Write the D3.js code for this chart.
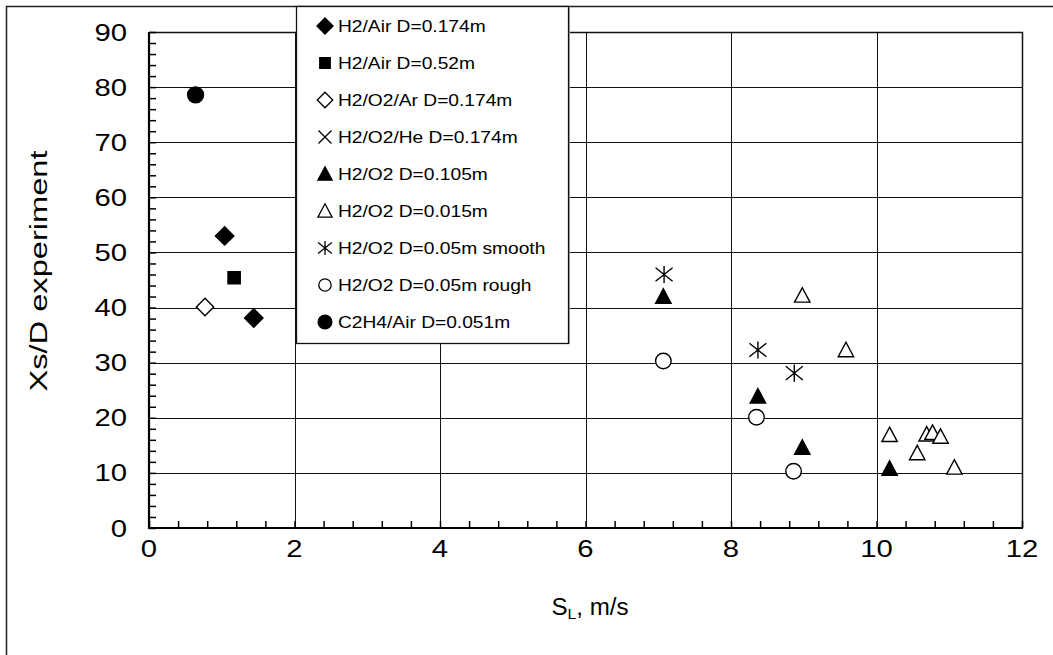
<!DOCTYPE html>
<html>
<head>
<meta charset="utf-8">
<script src="https://cdn.jsdelivr.net/npm/d3@7"></script>
<style>
  html, body { margin: 0; padding: 0; background: #fff; }
  svg { display: block; font-family: "Liberation Sans", Arial, sans-serif; }
</style>
</head>
<body>
<svg id="chart" width="1053" height="655"></svg>
<script>
// ---- Data ----
const seriesNames = [
  "H2/Air D=0.174m",
  "H2/Air D=0.52m",
  "H2/O2/Ar D=0.174m",
  "H2/O2/He D=0.174m",
  "H2/O2 D=0.105m",
  "H2/O2 D=0.015m",
  "H2/O2 D=0.05m smooth",
  "H2/O2 D=0.05m rough",
  "C2H4/Air D=0.051m"
];
const h2AirD174_x = [1.04, 1.44];
const h2AirD174_y = [53.0, 38.1];
const h2AirD52_x = [1.17];
const h2AirD52_y = [45.4];
const h2O2ArD174_x = [0.77];
const h2O2ArD174_y = [40.1];
const h2O2HeD174_x = [];
const h2O2HeD174_y = [];
const h2O2D105_x = [7.07, 8.37, 8.98, 10.18];
const h2O2D105_y = [42.0, 23.9, 14.6, 10.8];
const h2O2D015_x = [8.98, 9.58, 10.18, 10.56, 10.69, 10.77, 10.88, 11.07];
const h2O2D015_y = [42.2, 32.3, 16.9, 13.6, 17.0, 17.3, 16.6, 11.0];
const h2O2D05smooth_x = [7.08, 8.37, 8.87];
const h2O2D05smooth_y = [46.0, 32.3, 28.1];
const h2O2D05rough_x = [7.07, 8.35, 8.86];
const h2O2D05rough_y = [30.3, 20.1, 10.3];
const c2h4AirD051_x = [0.64];
const c2h4AirD051_y = [78.6];

const xTicks = [0, 2, 4, 6, 8, 10, 12];
const yTicks = [0, 10, 20, 30, 40, 50, 60, 70, 80, 90];

// ---- Symbol types ----
const symDiamond = { draw(ctx, size) { const r = Math.sqrt(size / 2); ctx.moveTo(0, -r); ctx.lineTo(r, 0); ctx.lineTo(0, r); ctx.lineTo(-r, 0); ctx.closePath(); } };
const symSquare = { draw(ctx, size) { const r = Math.sqrt(size) / 2; ctx.rect(-r, -r, 2 * r, 2 * r); } };
const symTriangle = { draw(ctx, size) { const h = Math.sqrt(size * 0.9); const w = h * 1.15; ctx.moveTo(0, -h / 2 - 1); ctx.lineTo(w / 2, h / 2); ctx.lineTo(-w / 2, h / 2); ctx.closePath(); } };
const symCircle = { draw(ctx, size) { const r = Math.sqrt(size / Math.PI); ctx.moveTo(r, 0); ctx.arc(0, 0, r, 0, 2 * Math.PI); } };
const symX = { draw(ctx, size) { const r = Math.sqrt(size) / 2; ctx.moveTo(-r, -r); ctx.lineTo(r, r); ctx.moveTo(r, -r); ctx.lineTo(-r, r); } };
const symStar = { draw(ctx, size) { const r = Math.sqrt(size) / 2; ctx.moveTo(0, -r); ctx.lineTo(0, r); ctx.moveTo(-r, -r * 0.8); ctx.lineTo(r, r * 0.8); ctx.moveTo(r, -r * 0.8); ctx.lineTo(-r, r * 0.8); } };

const series = [
  { name: seriesNames[0], xs: h2AirD174_x, ys: h2AirD174_y, type: symDiamond, fill: "#000", size: 170, lsize: 130 },
  { name: seriesNames[1], xs: h2AirD52_x, ys: h2AirD52_y, type: symSquare, fill: "#000", size: 150, lsize: 110 },
  { name: seriesNames[2], xs: h2O2ArD174_x, ys: h2O2ArD174_y, type: symDiamond, fill: "none", size: 150, lsize: 120 },
  { name: seriesNames[3], xs: h2O2HeD174_x, ys: h2O2HeD174_y, type: symX, fill: "none", size: 170, lsize: 170 },
  { name: seriesNames[4], xs: h2O2D105_x, ys: h2O2D105_y, type: symTriangle, fill: "#000", size: 200, lsize: 170 },
  { name: seriesNames[5], xs: h2O2D015_x, ys: h2O2D015_y, type: symTriangle, fill: "none", size: 200, lsize: 170 },
  { name: seriesNames[6], xs: h2O2D05smooth_x, ys: h2O2D05smooth_y, type: symStar, fill: "none", size: 290, lsize: 190 },
  { name: seriesNames[7], xs: h2O2D05rough_x, ys: h2O2D05rough_y, type: symCircle, fill: "none", size: 190, lsize: 120 },
  { name: seriesNames[8], xs: c2h4AirD051_x, ys: c2h4AirD051_y, type: symCircle, fill: "#000", size: 200, lsize: 150 }
];
const fillOf = s => s.fill === "none" ? ((s.type === symStar || s.type === symX) ? "none" : "#fff") : s.fill;

// ---- Layout ----
const svg = d3.select("#chart");
const L = 149, R = 1022, T = 32, B = 528;
const SX = 1.22; // horizontal glyph stretch seen in the reference
const x = d3.scaleLinear().domain([0, 12]).range([L, R]);
const y = d3.scaleLinear().domain([0, 90]).range([B, T]);

// outer frame
svg.append("rect").attr("x", 6.5).attr("y", 6.5).attr("width", 1100).attr("height", 700)
  .attr("fill", "#fff").attr("stroke", "#222").attr("stroke-width", 1.5);

// gridlines
const grid = svg.append("g").attr("stroke", "#111").attr("stroke-width", 1);
grid.selectAll("line.v").data(xTicks.filter(d => d > 0 && d < 12)).join("line")
  .attr("x1", d => Math.round(x(d)) + 0.5).attr("x2", d => Math.round(x(d)) + 0.5)
  .attr("y1", T).attr("y2", B);
grid.selectAll("line.h").data(yTicks.filter(d => d > 0 && d < 90)).join("line")
  .attr("y1", d => Math.round(y(d)) + 0.5).attr("y2", d => Math.round(y(d)) + 0.5)
  .attr("x1", L).attr("x2", R);

// plot border top/right
svg.append("path").attr("d", `M${L},${T + 0.5}H${R + 0.5}V${B}`).attr("fill", "none").attr("stroke", "#111").attr("stroke-width", 1.5);

// axes with inward minor ticks
const xAxis = d3.axisTop(x).tickValues(d3.range(0, 12.01, 0.4)).tickSize(7).tickFormat("");
const gx = svg.append("g").attr("transform", `translate(0,${B})`).call(xAxis);
gx.select(".domain").remove();
gx.selectAll(".tick line").attr("stroke", "#000").attr("stroke-width", 1.5);
svg.append("line").attr("x1", L - 1).attr("x2", R + 1).attr("y1", B).attr("y2", B).attr("stroke", "#000").attr("stroke-width", 2.2);

const yAxis = d3.axisRight(y).tickValues(d3.range(0, 90.01, 2)).tickSize(7).tickFormat("");
const gy = svg.append("g").attr("transform", `translate(${L},0)`).call(yAxis);
gy.select(".domain").remove();
gy.selectAll(".tick line").attr("stroke", "#000").attr("stroke-width", 1.5);
svg.append("line").attr("x1", L).attr("x2", L).attr("y1", T).attr("y2", B + 1).attr("stroke", "#000").attr("stroke-width", 2.2);

// tick labels
svg.append("g").selectAll("text").data(xTicks).join("text")
  .attr("transform", d => `translate(${x(d)},557) scale(${SX},1)`).attr("text-anchor", "middle")
  .attr("font-size", 24).attr("fill", "#000").text(d => d);
svg.append("g").selectAll("text").data(yTicks).join("text")
  .attr("transform", d => `translate(127,${y(d) + 8.5}) scale(${SX},1)`).attr("text-anchor", "end")
  .attr("font-size", 24).attr("fill", "#000").text(d => d);

// axis titles
const xt = svg.append("text").attr("transform", `translate(590,615) scale(1.05,1)`).attr("text-anchor", "middle")
  .attr("font-size", 23).attr("fill", "#000");
xt.append("tspan").text("S");
xt.append("tspan").attr("font-size", 15).attr("dy", 4).text("L");
xt.append("tspan").attr("dy", -4).text(", m/s");

svg.append("text").attr("transform", "translate(47,271) rotate(-90) scale(1.36,1)").attr("text-anchor", "middle")
  .attr("font-size", 24).attr("fill", "#000").text("Xs/D experiment");

// points
const pts = svg.append("g");
series.forEach(s => {
  const data = s.xs.map((v, i) => [v, s.ys[i]]);
  const sym = d3.symbol().type(s.type).size(s.size);
  pts.selectAll(null).data(data).join("path")
    .attr("transform", d => `translate(${x(d[0])},${y(d[1])})`)
    .attr("d", sym)
    .attr("fill", fillOf(s))
    .attr("stroke", "#000").attr("stroke-width", 1.4);
});

// legend
const lg = svg.append("g");
lg.append("line").attr("x1", 569.5).attr("x2", 569.5).attr("y1", 8).attr("y2", 344)
  .attr("stroke", "#aaa").attr("stroke-width", 1);
lg.append("rect").attr("x", 296.5).attr("y", 6.5).attr("width", 272).attr("height", 337)
  .attr("fill", "#fff").attr("stroke", "#111").attr("stroke-width", 1.3);
series.forEach((s, i) => {
  const cy = 26 + i * 37;
  lg.append("path").attr("transform", `translate(325,${cy})`)
    .attr("d", d3.symbol().type(s.type).size(s.lsize))
    .attr("fill", fillOf(s))
    .attr("stroke", "#000").attr("stroke-width", 1.3);
  lg.append("text").attr("transform", `translate(338,${cy + 6}) scale(1.2,1)`).attr("font-size", 16)
    .attr("fill", "#000").text(s.name);
});
</script>
</body>
</html>
